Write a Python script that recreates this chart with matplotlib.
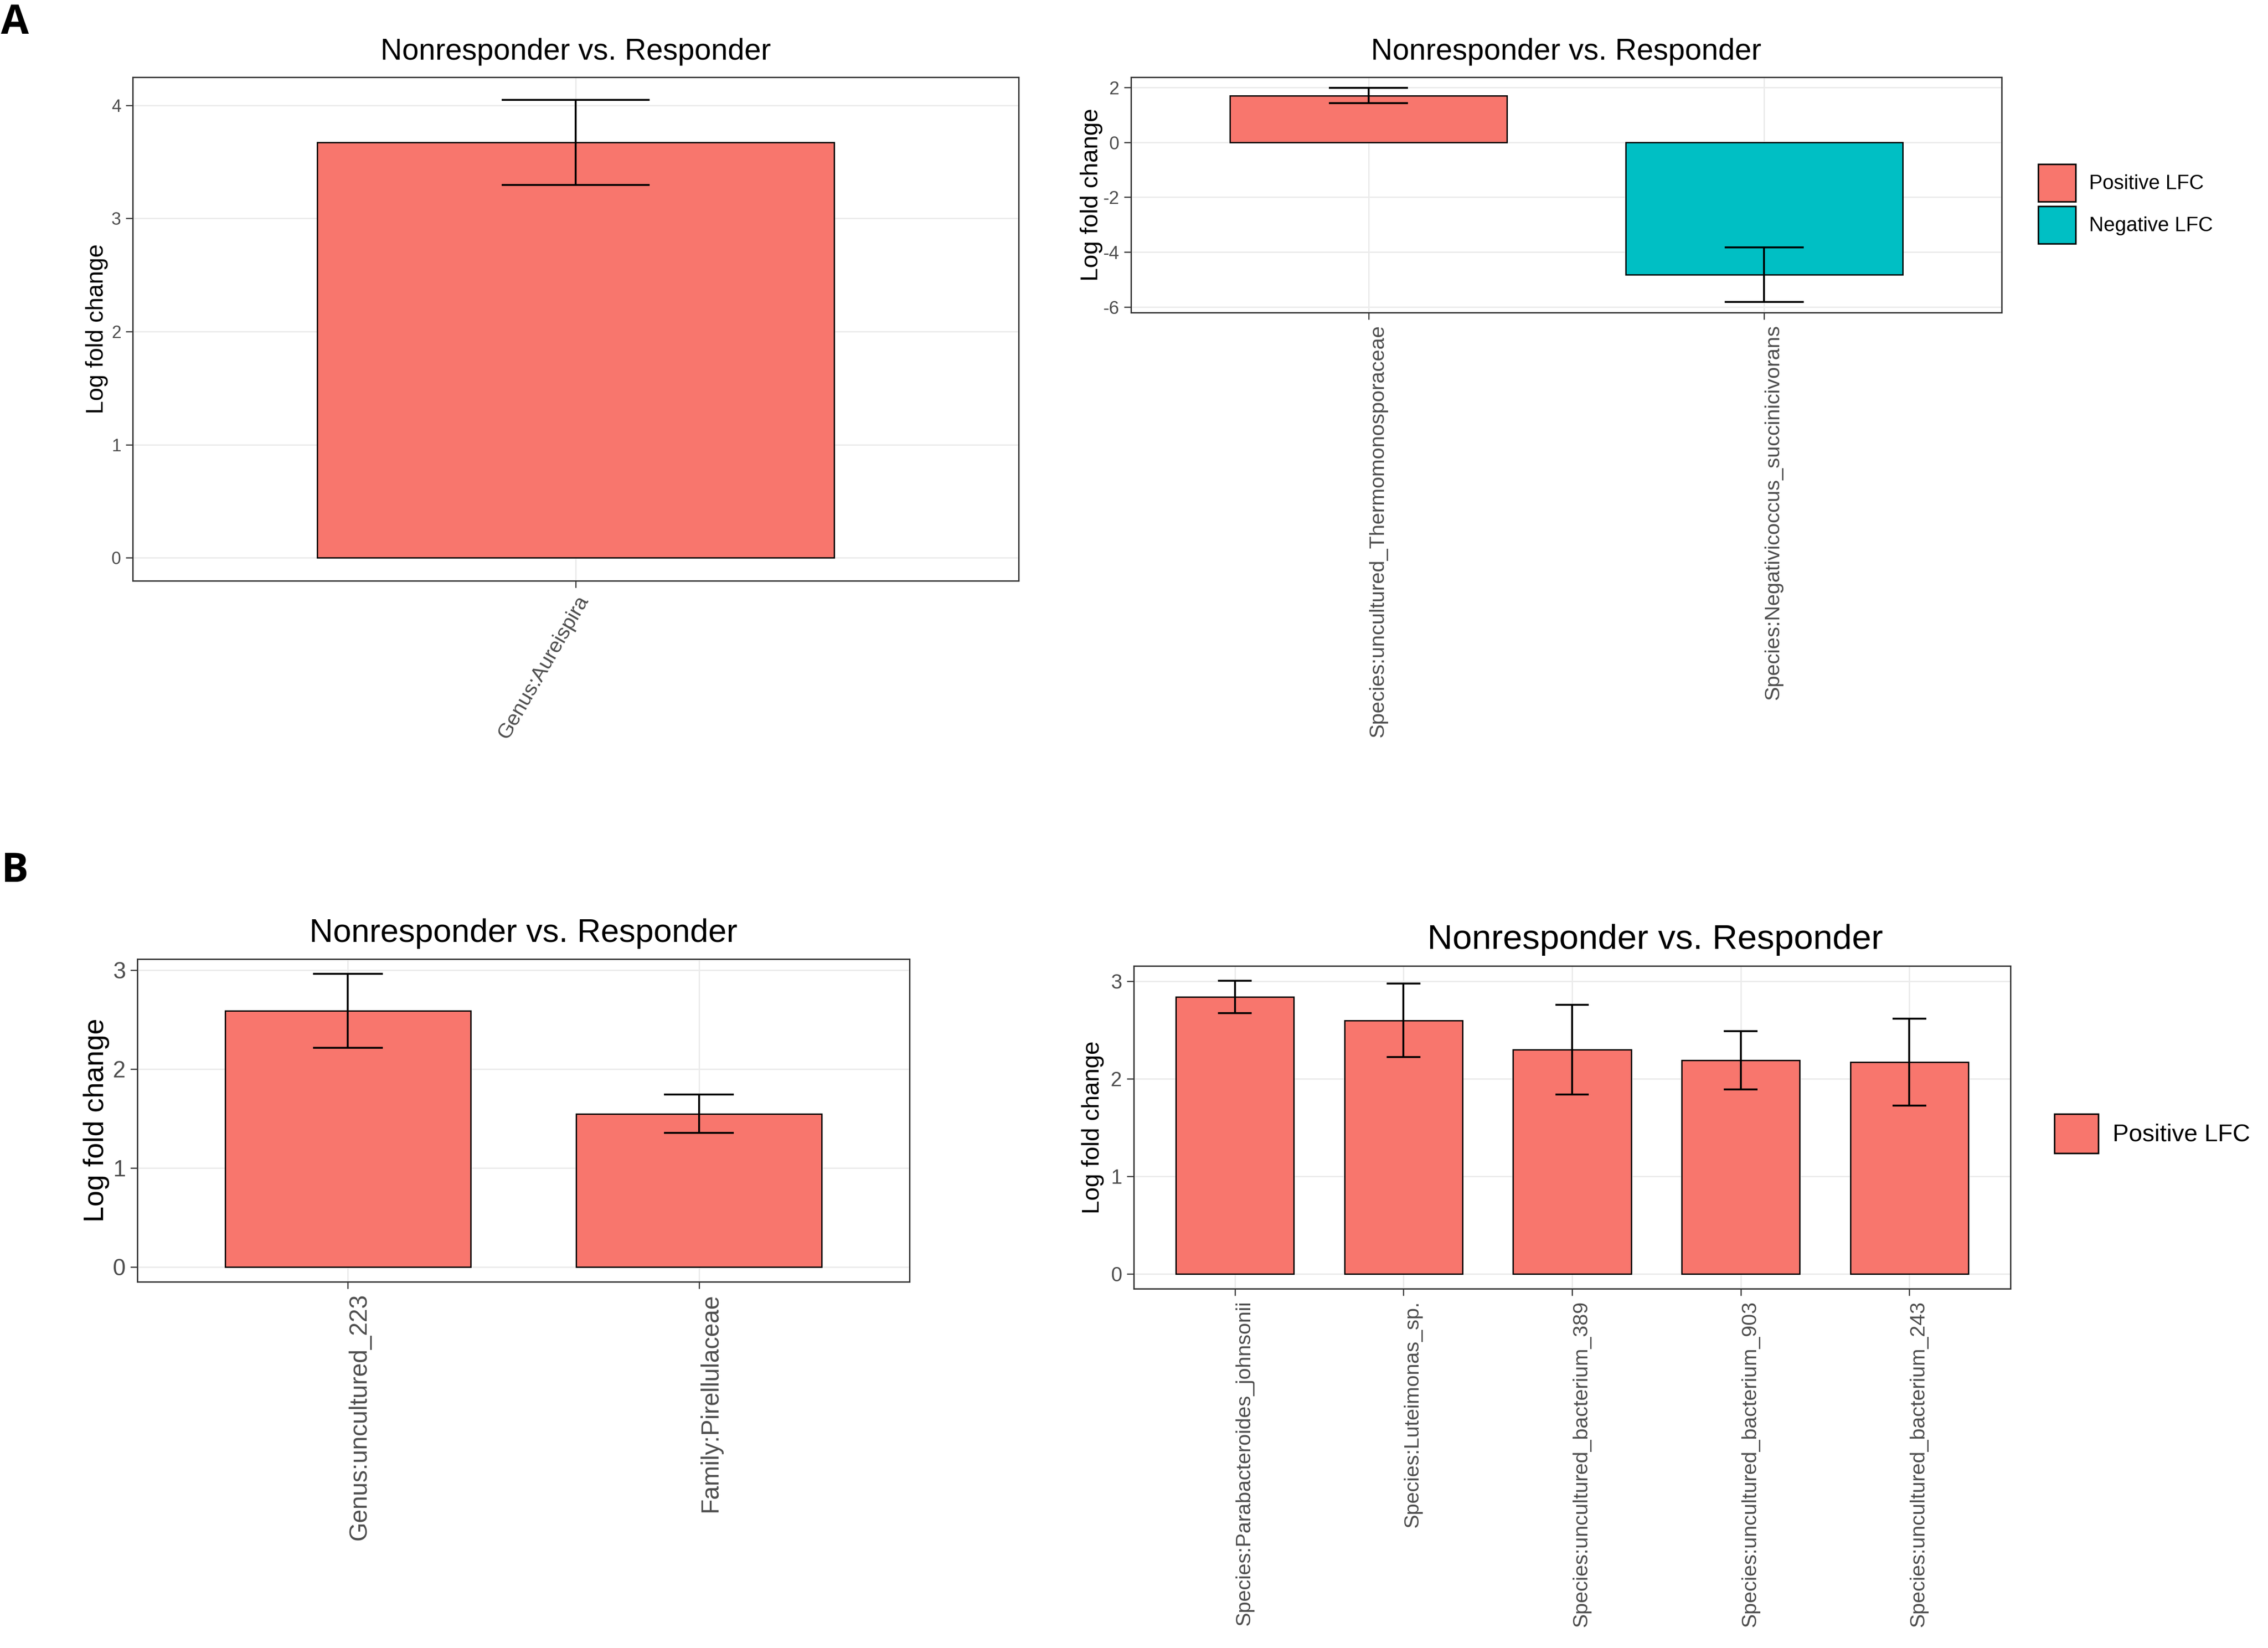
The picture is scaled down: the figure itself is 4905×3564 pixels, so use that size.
import matplotlib
matplotlib.use("Agg")
import matplotlib.pyplot as plt
from matplotlib.patches import Patch
from matplotlib.ticker import MultipleLocator

plt.rcParams['font.family'] = ['Liberation Sans', 'DejaVu Sans']
plt.rcParams['axes.unicode_minus'] = False

W, H, DPI = 4905, 3564, 300
pos_color = '#F8766D'
neg_color = '#00BFC4'
title = 'Nonresponder vs. Responder'

# panel A, genus level
a1_taxa = ['Genus:Aureispira']
a1_lfc = [3.67]
a1_se = [0.375]

# panel A, species level
a2_taxa = ['Species:uncultured_Thermomonosporaceae', 'Species:Negativicoccus_succinicivorans']
a2_lfc = [1.70, -4.83]
a2_se = [0.28, 0.99]

# panel B, genus/family level
b1_taxa = ['Genus:uncultured_223', 'Family:Pirellulaceae']
b1_lfc = [2.59, 1.55]
b1_se = [0.375, 0.195]

# panel B, species level
b2_taxa = ['Species:Parabacteroides_johnsonii', 'Species:Luteimonas_sp.',
           'Species:uncultured_bacterium_389', 'Species:uncultured_bacterium_903',
           'Species:uncultured_bacterium_243']
b2_lfc = [2.84, 2.60, 2.30, 2.19, 2.17]
b2_se = [0.167, 0.378, 0.46, 0.30, 0.446]

fig = plt.figure(figsize=(W / DPI, H / DPI), dpi=DPI)


def px_axes(x0, y0, x1, y1):
    return fig.add_axes([x0 / W, 1 - y1 / H, (x1 - x0) / W, (y1 - y0) / H])


def lfc_panel(box, taxa, lfc, se, step, fs_title, fs_ylab, fs_ytick, fs_xtick,
              rot=90, ylab_pad=1.5, title_x=0.5):
    ax = px_axes(*box)
    x = list(range(len(taxa)))
    colors = [pos_color if v > 0 else neg_color for v in lfc]
    ax.bar(x, lfc, width=0.7, color=colors, edgecolor='black', linewidth=0.7, zorder=2)
    lo = [v - e for v, e in zip(lfc, se)]
    hi = [v + e for v, e in zip(lfc, se)]
    ax.vlines(x, lo, hi, color='black', lw=1.0, zorder=3)
    ax.hlines(lo, [i - 0.1 for i in x], [i + 0.1 for i in x], color='black', lw=1.0, zorder=3)
    ax.hlines(hi, [i - 0.1 for i in x], [i + 0.1 for i in x], color='black', lw=1.0, zorder=3)

    ax.set_xlim(-0.6, len(taxa) - 0.4)
    ymin, ymax = min(0, min(lo)), max(0, max(hi))
    pad = 0.05 * (ymax - ymin)
    ax.set_ylim(ymin - pad, ymax + pad)
    ax.yaxis.set_major_locator(MultipleLocator(step))

    ax.set_axisbelow(True)
    ax.grid(True, color='#EBEBEB', lw=0.7)
    for s in ax.spines.values():
        s.set_color('#333333')
        s.set_linewidth(0.7)
    ax.tick_params(length=3.6, width=0.6, color='#333333', pad=2.5, labelcolor='#4D4D4D')
    ax.tick_params(axis='y', labelsize=fs_ytick)

    ax.set_xticks(x)
    if rot == 90:
        ax.set_xticklabels(taxa, rotation=90, ha='left', va='top', fontsize=fs_xtick)
    else:
        ax.set_xticklabels(taxa, rotation=rot, ha='right', va='top',
                           rotation_mode='anchor', fontsize=fs_xtick)
    ax.set_ylabel('Log fold change', fontsize=fs_ylab, labelpad=ylab_pad)
    ax.set_title(title, fontsize=fs_title, pad=9, x=title_x)
    return ax


lfc_panel((287, 167, 2203, 1256), a1_taxa, a1_lfc, a1_se, 1,
          15.5, 12.4, 9, 10.9, rot=60, ylab_pad=1.5)
ax_a2 = lfc_panel((2446, 167, 4329, 676), a2_taxa, a2_lfc, a2_se, 2,
                  15.5, 12.6, 9.5, 10.9, ylab_pad=0)
lfc_panel((297, 2074, 1967, 2772), b1_taxa, b1_lfc, b1_se, 1,
          17, 14.9, 12, 12.7, ylab_pad=1.7)
ax_b2 = lfc_panel((2452, 2089, 4348, 2787), b2_taxa, b2_lfc, b2_se, 1,
                  18.1, 12.6, 10.5, 10.8, ylab_pad=3.4, title_x=0.595)

handles = [Patch(facecolor=pos_color, edgecolor='black', lw=0.8, label='Positive LFC'),
           Patch(facecolor=neg_color, edgecolor='black', lw=0.8, label='Negative LFC')]
fig.legend(handles=handles, loc='upper left', bbox_to_anchor=(4408 / W, 1 - 355 / H),
           frameon=False, fontsize=10.5, handlelength=1.85, handleheight=2.47,
           labelspacing=0.23, handletextpad=0.66, borderpad=0, borderaxespad=0)
fig.legend(handles=handles[:1], loc='upper left', bbox_to_anchor=(4443 / W, 1 - 2409 / H),
           frameon=False, fontsize=12.6, handlelength=1.8, handleheight=2.1,
           handletextpad=0.6, borderpad=0, borderaxespad=0)

fig.text(2 / W, 1 - 6 / H, 'A', fontsize=21, fontweight='bold', family='Open Sans', va='top')
fig.text(2 / W, 1 - 1840 / H, 'B', fontsize=21, fontweight='bold', family='Open Sans', va='top')

fig.savefig('out.png', dpi=DPI, facecolor='white')
